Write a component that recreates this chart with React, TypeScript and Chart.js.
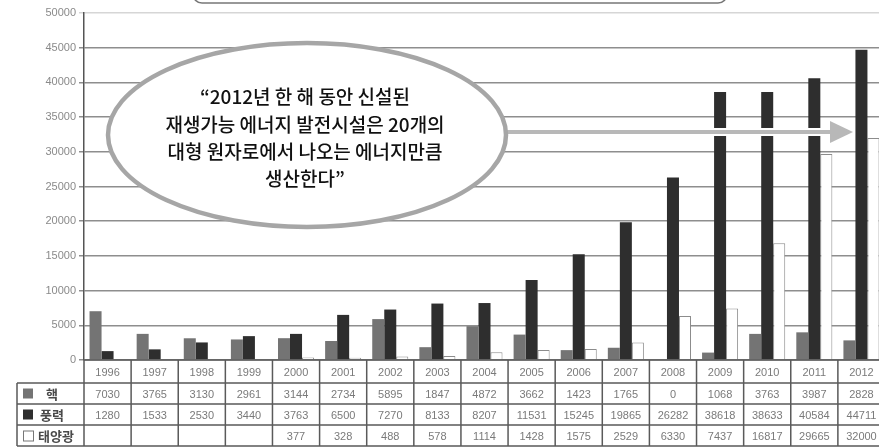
import React, { useEffect, useRef } from "react";
import { Chart, registerables } from "chart.js";

Chart.register(...registerables);

const years = ["1996", "1997", "1998", "1999", "2000", "2001", "2002", "2003", "2004", "2005", "2006", "2007", "2008", "2009", "2010", "2011", "2012"];
const nuclear = [7030, 3765, 3130, 2961, 3144, 2734, 5895, 1847, 4872, 3662, 1423, 1765, 0, 1068, 3763, 3987, 2828];
const wind = [1280, 1533, 2530, 3440, 3763, 6500, 7270, 8133, 8207, 11531, 15245, 19865, 26282, 38618, 38633, 40584, 44711];
const solar: (number | null)[] = [null, null, null, null, 377, 328, 488, 578, 1114, 1428, 1575, 2529, 6330, 7437, 16817, 29665, 32000];
const seriesLabels = ["핵", "풍력", "태양광"];
const yMax = 50000;
const yStep = 5000;
const quoteLines = [
  "\u201C2012년 한 해 동안 신설된",
  "재생가능 에너지 발전시설은 20개의",
  "대형 원자로에서 나오는 에너지만큼",
  "생산한다\u201D",
];

const COLORS = { nuclear: "#747474", wind: "#2e2e2e", solar: "#ffffff" };

const overlayPlugin = {
  id: "overlay",
  afterDraw(chart: any) {
    const ctx = chart.ctx as CanvasRenderingContext2D;
    const { left, right, bottom } = chart.chartArea;
    const xs = chart.scales.x;
    const n = years.length;
    const cw = (right - left) / n;

    // ---- data table ----
    const rowEdges = [bottom, bottom + 23, bottom + 44, bottom + 65, bottom + 86];
    ctx.save();
    ctx.strokeStyle = "#5a5a5a";
    ctx.lineWidth = 1.5;
    ctx.beginPath();
    ctx.moveTo(left, rowEdges[0]);
    ctx.lineTo(right, rowEdges[0]);
    for (let r = 1; r < rowEdges.length; r++) {
      ctx.moveTo(17, rowEdges[r]);
      ctx.lineTo(right, rowEdges[r]);
    }
    for (let i = 0; i <= n; i++) {
      const xv = left + i * cw;
      ctx.moveTo(xv, rowEdges[0]);
      ctx.lineTo(xv, rowEdges[4]);
    }
    ctx.moveTo(17, rowEdges[1]);
    ctx.lineTo(17, rowEdges[4]);
    ctx.stroke();

    ctx.textAlign = "center";
    ctx.textBaseline = "middle";
    ctx.fillStyle = "#7a7a7a";
    ctx.font = "11px 'Liberation Sans', Arial, sans-serif";
    const rows = [nuclear, wind, solar];
    for (let i = 0; i < n; i++) {
      const cx = xs.getPixelForValue(i);
      ctx.fillText(years[i], cx, (rowEdges[0] + rowEdges[1]) / 2 + 1);
      rows.forEach((arr, r) => {
        const v = arr[i];
        if (v === null || v === undefined) return;
        ctx.fillText(String(v), cx, (rowEdges[r + 1] + rowEdges[r + 2]) / 2 + 1);
      });
    }

    const swatchFill = [COLORS.nuclear, COLORS.wind, COLORS.solar];
    ctx.font = "bold 13px 'Noto Sans CJK KR', sans-serif";
    seriesLabels.forEach((lab, r) => {
      const cy = (rowEdges[r + 1] + rowEdges[r + 2]) / 2;
      ctx.fillStyle = swatchFill[r];
      ctx.fillRect(23, cy - 5, 10, 10);
      if (r === 2) {
        ctx.strokeStyle = "#777";
        ctx.lineWidth = 1;
        ctx.strokeRect(23.5, cy - 4.5, 10, 10);
      }
      ctx.fillStyle = "#4a4a4a";
      ctx.textAlign = "center";
      ctx.fillText(lab, r === 2 ? 56 : 52, cy + 1);
    });
    ctx.restore();

    // ---- arrow ----
    ctx.save();
    const ay = 132;
    ctx.strokeStyle = "#ffffff";
    ctx.lineWidth = 8;
    ctx.beginPath();
    ctx.moveTo(495, ay);
    ctx.lineTo(834, ay);
    ctx.stroke();
    ctx.strokeStyle = "#b8b8b8";
    ctx.lineWidth = 4;
    ctx.beginPath();
    ctx.moveTo(495, ay);
    ctx.lineTo(834, ay);
    ctx.stroke();
    ctx.fillStyle = "#b8b8b8";
    ctx.beginPath();
    ctx.moveTo(830, ay - 11);
    ctx.lineTo(853, ay);
    ctx.lineTo(830, ay + 11);
    ctx.closePath();
    ctx.fill();
    ctx.restore();

    // ---- speech ellipse ----
    ctx.save();
    ctx.beginPath();
    ctx.ellipse(307, 135, 199, 92, 0, 0, Math.PI * 2);
    ctx.fillStyle = "#ffffff";
    ctx.fill();
    ctx.strokeStyle = "#a6a6a6";
    ctx.lineWidth = 4.5;
    ctx.stroke();
    ctx.fillStyle = "#111111";
    ctx.font = "500 19px 'Noto Sans CJK KR', sans-serif";
    ctx.textAlign = "center";
    ctx.textBaseline = "middle";
    const lineYs = [97, 125, 152, 179];
    quoteLines.forEach((t, i) => ctx.fillText(t, 305, lineYs[i]));
    ctx.restore();

    // ---- top rounded box (cropped) ----
    ctx.save();
    ctx.strokeStyle = "#777";
    ctx.lineWidth = 1.5;
    ctx.beginPath();
    (ctx as any).roundRect(193, -40, 534, 43, 9);
    ctx.stroke();
    ctx.restore();
  },
};

export default function App() {
  const ref = useRef<HTMLCanvasElement | null>(null);
  useEffect(() => {
    if (!ref.current) return;
    const chart = new Chart(ref.current, {
      type: "bar",
      data: {
        labels: years,
        datasets: [
          { label: seriesLabels[0], data: nuclear, backgroundColor: COLORS.nuclear, borderWidth: 0 },
          { label: seriesLabels[1], data: wind, backgroundColor: COLORS.wind, borderWidth: 0 },
          { label: seriesLabels[2], data: solar, backgroundColor: COLORS.solar, borderColor: "#8c8c8c", borderWidth: 1 },
        ],
      },
      options: {
        responsive: false,
        animation: false,
        devicePixelRatio: 1,
        layout: { padding: { left: 0, top: 13, right: 15, bottom: 88 } },
        plugins: { legend: { display: false }, tooltip: { enabled: false } },
        datasets: { bar: { categoryPercentage: 0.765, barPercentage: 1.0 } },
        scales: {
          x: { display: false, offset: true },
          y: {
            min: 0,
            max: yMax,
            ticks: {
              stepSize: yStep,
              color: "#8a8a8a",
              padding: 3,
              font: { family: "'Liberation Sans', Arial, sans-serif", size: 11 },
              callback: (v: any) => String(v),
            },
            grid: {
              color: (c: any) => (c.tick && c.tick.value === yMax ? "#d6d6d6" : "#8e8e8e"),
              lineWidth: 1.5,
              tickLength: 5,
              drawTicks: true,
            },
            border: { color: "#555", width: 1.5 },
            afterFit: (scale: any) => {
              scale.width = 84;
            },
          },
        },
      },
      plugins: [overlayPlugin],
    } as any);
    return () => chart.destroy();
  }, []);
  return (
    <div style={{ position: "absolute", left: 0, top: 0, width: 879, height: 448, overflow: "hidden", background: "#fff" }}>
      <canvas ref={ref} width={900} height={448} style={{ display: "block", width: 900, height: 448 }} />
    </div>
  );
}
